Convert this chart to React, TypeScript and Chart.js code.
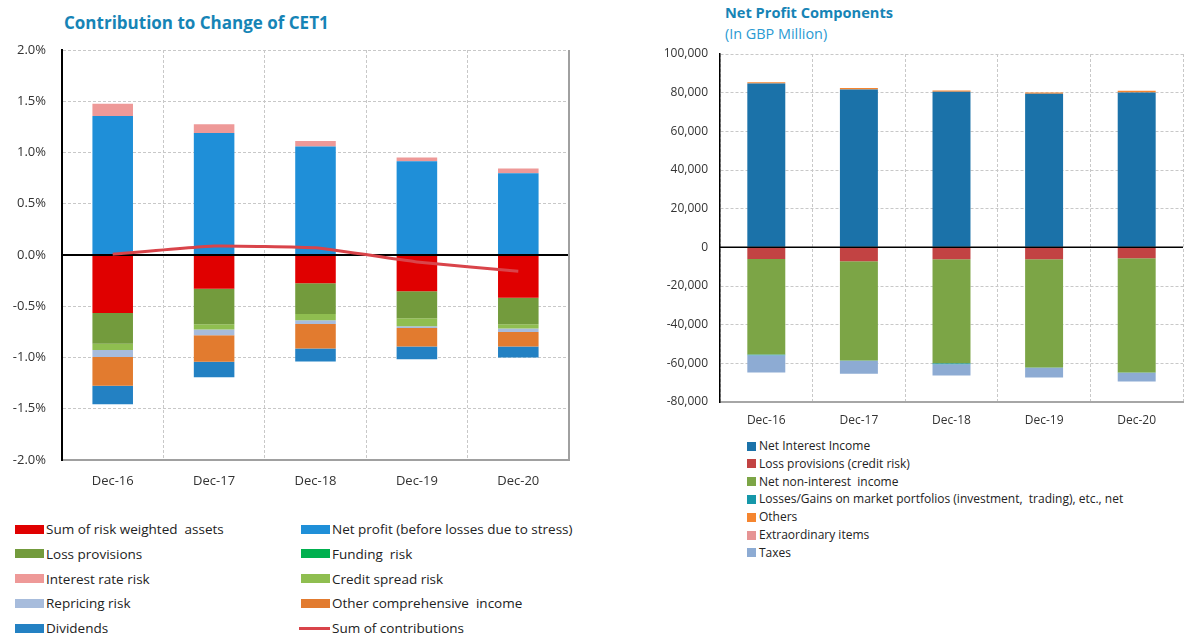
import React, { useEffect, useRef } from "react";
import { Chart, registerables } from "chart.js";

Chart.register(...registerables);

const FONT = "'Open Sans', 'Noto Sans', sans-serif";
const TEXT = "#333333";
const TITLE_COLOR = "#1684B6";

// ---------- Left chart: Contribution to Change of CET1 (in %) ----------
const periods = ["Dec-16", "Dec-17", "Dec-18", "Dec-19", "Dec-20"];
const cetTicks = [-2, -1.5, -1, -0.5, 0, 0.5, 1, 1.5, 2];

const rwaSum = [-0.566, -0.33, -0.275, -0.353, -0.418];
const netProfit = [1.356, 1.19, 1.059, 0.915, 0.797];
const lossProvisions = [-0.3, -0.346, -0.3, -0.265, -0.258];
const fundingRisk = [0, 0, 0, 0, 0];
const interestRateRisk = [0.12, 0.085, 0.052, 0.036, 0.046];
const creditSpreadRisk = [-0.06, -0.05, -0.062, -0.078, -0.04];
const repricingRisk = [-0.07, -0.056, -0.036, -0.016, -0.036];
const otherComprehensiveIncome = [-0.28, -0.26, -0.24, -0.18, -0.14];
const dividends = [-0.18, -0.15, -0.125, -0.125, -0.108];
const sumOfContributions = [0.008, 0.088, 0.07, -0.068, -0.158];

// ---------- Right chart: Net Profit Components (GBP million) ----------
const netInterestIncome = [84750, 81650, 80450, 79400, 80100];
const lossProvisionsCredit = [-6060, -7250, -6220, -6200, -5700];
const netNonInterestIncome = [-49400, -51300, -53700, -55970, -59050];
const marketPortfolios = [-300, -100, -500, -100, -100];
const others = [700, 800, 700, 700, 900];
const extraordinaryItems = [0, 0, 0, 0, 0];
const taxes = [-9000, -6700, -5900, -5000, -4500];

type LegendItem = { label: string; color: string; line?: boolean };

const leftSeries: { label: string; data: number[]; color: string }[] = [
  { label: "Sum of risk weighted  assets", data: rwaSum, color: "#E00000" },
  { label: "Net profit (before losses due to stress)", data: netProfit, color: "#1F8FD8" },
  { label: "Loss provisions", data: lossProvisions, color: "#739B3D" },
  { label: "Funding  risk", data: fundingRisk, color: "#00B04F" },
  { label: "Interest rate risk", data: interestRateRisk, color: "#EE9998" },
  { label: "Credit spread risk", data: creditSpreadRisk, color: "#8FBE50" },
  { label: "Repricing risk", data: repricingRisk, color: "#A7BCDC" },
  { label: "Other comprehensive  income", data: otherComprehensiveIncome, color: "#E27B2F" },
  { label: "Dividends", data: dividends, color: "#2381C3" },
];
const sumLabel = "Sum of contributions";
const sumColor = "#D9444A";

const rightSeries: { label: string; data: number[]; color: string }[] = [
  { label: "Net Interest Income", data: netInterestIncome, color: "#1B72A9" },
  { label: "Loss provisions (credit risk)", data: lossProvisionsCredit, color: "#C24343" },
  { label: "Net non-interest  income", data: netNonInterestIncome, color: "#7CA546" },
  { label: "Losses/Gains on market portfolios (investment,  trading), etc., net", data: marketPortfolios, color: "#1597A9" },
  { label: "Others", data: others, color: "#F5852F" },
  { label: "Extraordinary items", data: extraordinaryItems, color: "#E69494" },
  { label: "Taxes", data: taxes, color: "#8DABD3" },
];

const zeroLinePlugin = {
  id: "zeroLine",
  beforeDatasetDraw(chart: any, args: any, opts: any) {
    if (!opts || !opts.beforeLine) return;
    if (args.meta.type !== "line") return;
    drawZero(chart, opts);
  },
  afterDatasetsDraw(chart: any, _args: any, opts: any) {
    if (!opts) return;
    if (!opts.beforeLine) drawZero(chart, opts);
    const { ctx, chartArea } = chart;
    if (opts.rightBorder) {
      ctx.save();
      ctx.strokeStyle = opts.rightBorder;
      ctx.lineWidth = 2;
      ctx.beginPath();
      ctx.moveTo(chartArea.right, chartArea.top);
      ctx.lineTo(chartArea.right, chartArea.bottom);
      ctx.stroke();
      ctx.restore();
    }
  },
};

function drawZero(chart: any, opts: any) {
  const { ctx, chartArea, scales } = chart;
  const y = scales.y.getPixelForValue(0);
  ctx.save();
  ctx.strokeStyle = opts.color || "#000";
  ctx.lineWidth = opts.width || 2;
  ctx.beginPath();
  ctx.moveTo(chartArea.left, y);
  ctx.lineTo(chartArea.right, y);
  ctx.stroke();
  ctx.restore();
}

function CetChart() {
  const ref = useRef<HTMLCanvasElement | null>(null);
  useEffect(() => {
    if (!ref.current) return;
    const datasets: any[] = leftSeries.map((s) => ({
      type: "bar",
      label: s.label,
      data: s.data,
      backgroundColor: s.color,
      borderWidth: 0,
      stack: "a",
      order: 1,
      barPercentage: 0.4,
      categoryPercentage: 1,
    }));
    datasets.push({
      type: "line",
      label: sumLabel,
      data: sumOfContributions,
      borderColor: sumColor,
      backgroundColor: sumColor,
      borderWidth: 3,
      pointRadius: 0,
      tension: 0.12,
      order: 0,
    });
    const chart = new Chart(ref.current, {
      type: "bar",
      data: { labels: periods, datasets },
      plugins: [zeroLinePlugin],
      options: {
        animation: false,
        responsive: false,
        maintainAspectRatio: false,
        layout: { padding: { left: 0, right: 31, top: 50, bottom: 0 } },
        plugins: {
          legend: { display: false },
          tooltip: { enabled: false },
          zeroLine: { color: "#000", width: 2, beforeLine: true, rightBorder: "#A0A0A0" },
        } as any,
        scales: {
          x: {
            stacked: true,
            grid: { offset: true, color: "#C8C8C8", lineWidth: 1, drawTicks: false },
            border: { display: true, color: "#A0A0A0", width: 2, dash: [3, 2] },
            ticks: { color: TEXT, font: { family: FONT, size: 13 }, padding: 13 },
            afterFit: (s: any) => {
              s.height = 40;
            },
          },
          y: {
            stacked: true,
            min: -2,
            max: 2,
            afterBuildTicks: (s: any) => {
              s.ticks = cetTicks.map((v) => ({ value: v }));
            },
            ticks: {
              color: TEXT,
              font: { family: FONT, size: 13 },
              padding: 16,
              callback: (v: any) => Number(v).toFixed(1) + "%",
            },
            grid: {
              color: (c: any) => (c.tick && c.tick.value === 0 ? "rgba(0,0,0,0)" : "#C8C8C8"),
              lineWidth: 1,
              drawTicks: false,
            },
            border: { display: true, color: "#000", width: 2, dash: [3, 2] },
            afterFit: (s: any) => {
              s.width = 62;
            },
          },
        },
      } as any,
    });
    return () => chart.destroy();
  }, []);
  return (
    <canvas
      ref={ref}
      width={600}
      height={500}
      style={{ position: "absolute", left: 0, top: 0, width: 600, height: 500 }}
    />
  );
}

function NetProfitChart() {
  const ref = useRef<HTMLCanvasElement | null>(null);
  useEffect(() => {
    if (!ref.current) return;
    const datasets: any[] = rightSeries.map((s) => ({
      label: s.label,
      data: s.data,
      backgroundColor: s.color,
      borderWidth: 0,
      stack: "b",
      barPercentage: 0.41,
      categoryPercentage: 1,
    }));
    const chart = new Chart(ref.current, {
      type: "bar",
      data: { labels: periods, datasets },
      plugins: [zeroLinePlugin],
      options: {
        animation: false,
        responsive: false,
        maintainAspectRatio: false,
        layout: { padding: { left: 0, right: 2, top: 20, bottom: 0 } },
        plugins: {
          legend: { display: false },
          tooltip: { enabled: false },
          zeroLine: { color: "#000", width: 1.5, beforeLine: false },
        } as any,
        scales: {
          x: {
            stacked: true,
            grid: { offset: true, color: "#C8C8C8", lineWidth: 1, drawTicks: false },
            border: { display: true, color: "#A6A6A6", width: 2, dash: [3, 2] },
            ticks: { color: TEXT, font: { family: FONT, size: 12 }, padding: 11 },
            afterFit: (s: any) => {
              s.height = 32;
            },
          },
          y: {
            stacked: true,
            min: -80000,
            max: 100000,
            ticks: {
              stepSize: 20000,
              color: TEXT,
              font: { family: FONT, size: 12 },
              padding: 12,
              callback: (v: any) => Number(v).toLocaleString("en-US"),
            },
            grid: {
              color: (c: any) => (c.tick && c.tick.value === 0 ? "rgba(0,0,0,0)" : "#C8C8C8"),
              lineWidth: 1,
              drawTicks: false,
            },
            border: { display: true, color: "#000", width: 1.5, dash: [3, 2] },
            afterFit: (s: any) => {
              s.width = 80;
            },
          },
        },
      } as any,
    });
    return () => chart.destroy();
  }, []);
  return (
    <canvas
      ref={ref}
      width={545}
      height={400}
      style={{ position: "absolute", left: 640, top: 34, width: 545, height: 400 }}
    />
  );
}

const leftLegend: LegendItem[] = [
  ...leftSeries.map((s) => ({ label: s.label, color: s.color })),
  { label: sumLabel, color: sumColor, line: true },
];
const rightLegend: LegendItem[] = rightSeries.map((s) => ({ label: s.label, color: s.color }));

export default function App() {
  return (
    <div
      style={{
        position: "fixed",
        left: 0,
        top: 0,
        width: 1185,
        height: 634,
        background: "#fff",
        overflow: "hidden",
        fontFamily: FONT,
      }}
    >
      <div
        style={{
          position: "absolute",
          left: 64,
          top: 11,
          fontSize: 17,
          fontWeight: 700,
          color: TITLE_COLOR,
          whiteSpace: "nowrap",
          lineHeight: "24px",
        }}
      >
        Contribution to Change of CET1
      </div>
      <div
        style={{
          position: "absolute",
          left: 725,
          top: 2,
          fontSize: 14.6,
          fontWeight: 700,
          color: TITLE_COLOR,
          whiteSpace: "nowrap",
          lineHeight: "20px",
        }}
      >
        Net Profit Components
      </div>
      <div
        style={{
          position: "absolute",
          left: 725,
          top: 24,
          fontSize: 14.4,
          color: "#2A9AD2",
          whiteSpace: "nowrap",
          lineHeight: "20px",
        }}
      >
        (In GBP Million)
      </div>
      <CetChart />
      <NetProfitChart />
      {leftLegend.map((it, i) => {
        const col = i % 2;
        const row = Math.floor(i / 2);
        const cy = 529 + row * 24.8;
        const sx = col === 0 ? 15 : 301;
        return (
          <div key={"l" + i}>
            {it.line ? (
              <div
                style={{
                  position: "absolute",
                  left: sx - 2,
                  top: cy - 1.5,
                  width: 31,
                  height: 3,
                  background: it.color,
                }}
              />
            ) : (
              <div
                style={{
                  position: "absolute",
                  left: sx,
                  top: cy - 4.5,
                  width: 29,
                  height: 9,
                  background: it.color,
                }}
              />
            )}
            <div
              style={{
                position: "absolute",
                left: sx + 31,
                top: cy - 10,
                height: 20,
                lineHeight: "20px",
                fontSize: 13.5,
                color: "#222",
                whiteSpace: "pre",
              }}
            >
              {it.label}
            </div>
          </div>
        );
      })}
      {rightLegend.map((it, i) => {
        const cy = 446 + i * 17.8;
        return (
          <div key={"r" + i}>
            <div
              style={{
                position: "absolute",
                left: 747,
                top: cy - 4.5,
                width: 9,
                height: 9,
                background: it.color,
              }}
            />
            <div
              style={{
                position: "absolute",
                left: 759,
                top: cy - 9,
                height: 18,
                lineHeight: "18px",
                fontSize: 12,
                color: "#222",
                whiteSpace: "pre",
              }}
            >
              {it.label}
            </div>
          </div>
        );
      })}
    </div>
  );
}
